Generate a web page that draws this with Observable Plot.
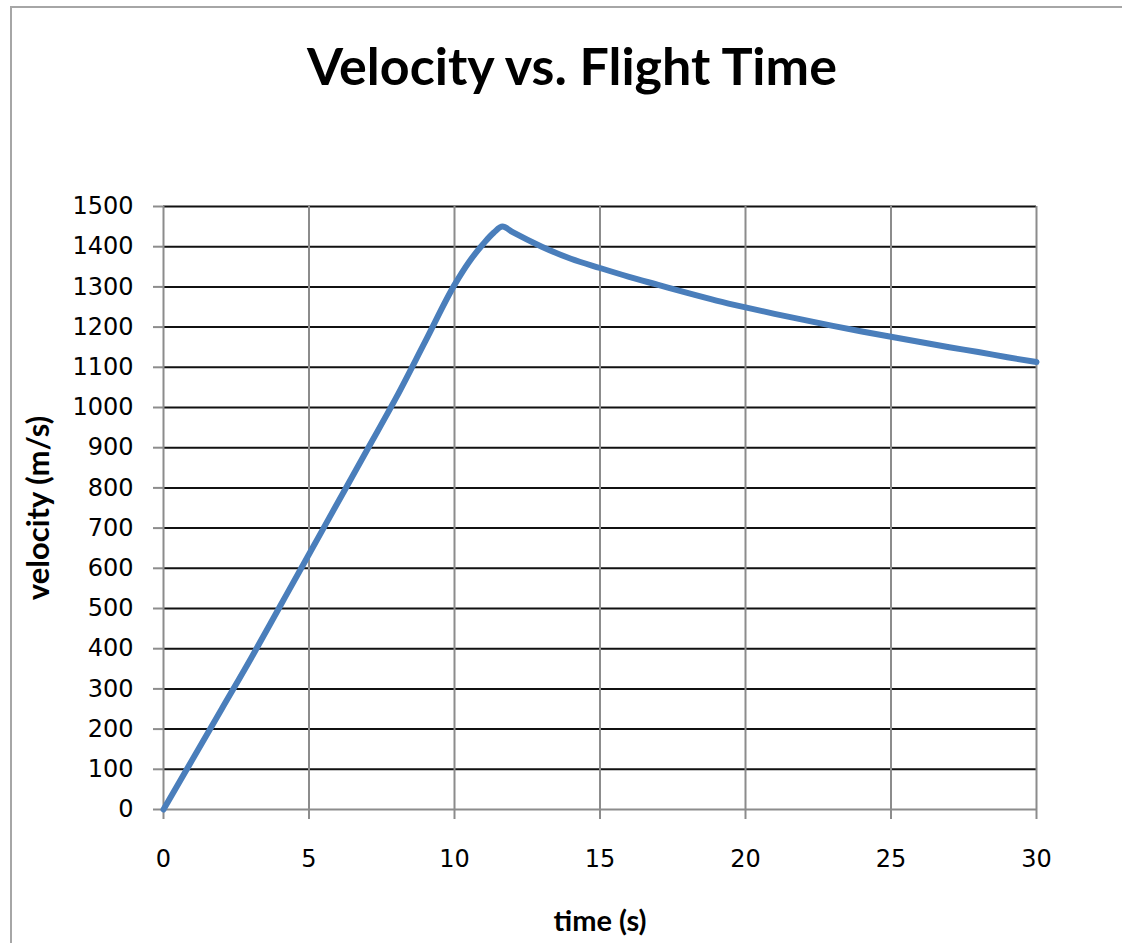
<!DOCTYPE html>
<html>
<head>
<meta charset="utf-8">
<script src="https://cdn.jsdelivr.net/npm/d3@7"></script>
<script src="https://cdn.jsdelivr.net/npm/@observablehq/plot@0.6"></script>
<style>
  html, body { margin: 0; padding: 0; background: #fff; }
  #page { position: relative; width: 1122px; height: 943px; overflow: hidden; }
  #frame { position: absolute; left: 10px; top: 6px; right: -10px; bottom: -10px;
           border-left: 2px solid #a6a6a6; border-top: 2px solid #a6a6a6; }
  #title { position: absolute; left: 0; top: 39px; width: 1144px; text-align: center;
           font-family: Lato, "Open Sans", sans-serif; font-weight: bold; font-size: 52px;
           color: #000; line-height: 1; }
  #chart { position: absolute; left: 0; top: 0; }
</style>
</head>
<body>
<div id="page">
  <div id="frame"></div>
  <div id="title">Velocity vs. Flight Time</div>
  <div id="chart"></div>
</div>
<script>
// Flight time (s) and velocity (m/s) samples
const timeS    = [0, 1, 2, 3, 4, 5, 6, 7, 8, 9, 10, 10.5, 11, 11.35, 11.65, 12, 13, 14, 15, 16, 17, 18, 19, 20, 21, 22, 23, 24, 25, 26, 27, 28, 29, 30];
const velocity = [0, 125, 250, 375, 505, 635, 765, 895, 1025, 1165, 1305, 1362, 1408, 1435, 1450, 1436, 1400, 1370, 1347, 1325, 1305, 1285, 1266, 1249, 1233, 1218, 1203, 1189, 1176, 1163, 1150, 1138, 1125, 1113];

// Axis ticks
const xTicks = [0, 5, 10, 15, 20, 25, 30];
const yTicks = [0, 100, 200, 300, 400, 500, 600, 700, 800, 900, 1000, 1100, 1200, 1300, 1400, 1500];

const xLabel = "time (s)";
const yLabel = "velocity (m/s)";

const rows = timeS.map((t, i) => ({t, v: velocity[i]}));

const grey = "#8c8c8c";
const labelFont = {fontFamily: "Lato, 'Open Sans', sans-serif", fontWeight: "bold", fill: "#000"};

const chart = Plot.plot({
  width: 1122,
  height: 943,
  marginLeft: 163,
  marginRight: 86,
  marginTop: 206,
  marginBottom: 134,
  style: {fontFamily: "'DejaVu Sans', Verdana, sans-serif", fontSize: "24px", background: "transparent", overflow: "visible"},
  x: {domain: [0, 30]},
  y: {domain: [0, 1500]},
  marks: [
    // horizontal grid in black, vertical grid in grey
    Plot.ruleY(yTicks.filter(v => v > 0), {stroke: "#111", strokeWidth: 2}),
    Plot.ruleX(xTicks.filter(t => t > 0), {stroke: grey, strokeWidth: 2}),
    Plot.ruleX([0], {stroke: grey, strokeWidth: 2}),
    Plot.ruleY([0], {stroke: grey, strokeWidth: 2}),
    Plot.axisY({ticks: yTicks, tickFormat: d => String(d), tickSize: 10, tickPadding: 20, stroke: grey, strokeWidth: 2, fill: "#000", label: null}),
    Plot.axisX({ticks: xTicks, tickFormat: d => String(d), tickSize: 10, tickPadding: 30, stroke: grey, strokeWidth: 2, fill: "#000", label: null}),
    Plot.line(rows, {x: "t", y: "v", curve: "monotone-x", stroke: "#4a7ebb", strokeWidth: 6, strokeLinejoin: "round", strokeLinecap: "round"}),
    Plot.text([yLabel], {frameAnchor: "left", dx: -124, rotate: -90, textAnchor: "middle", lineAnchor: "middle", fontSize: 31, ...labelFont}),
    Plot.text([xLabel], {frameAnchor: "bottom", dy: 112, textAnchor: "middle", lineAnchor: "middle", fontSize: 29, ...labelFont})
  ]
});

document.getElementById("chart").appendChild(chart);
</script>
</body>
</html>
